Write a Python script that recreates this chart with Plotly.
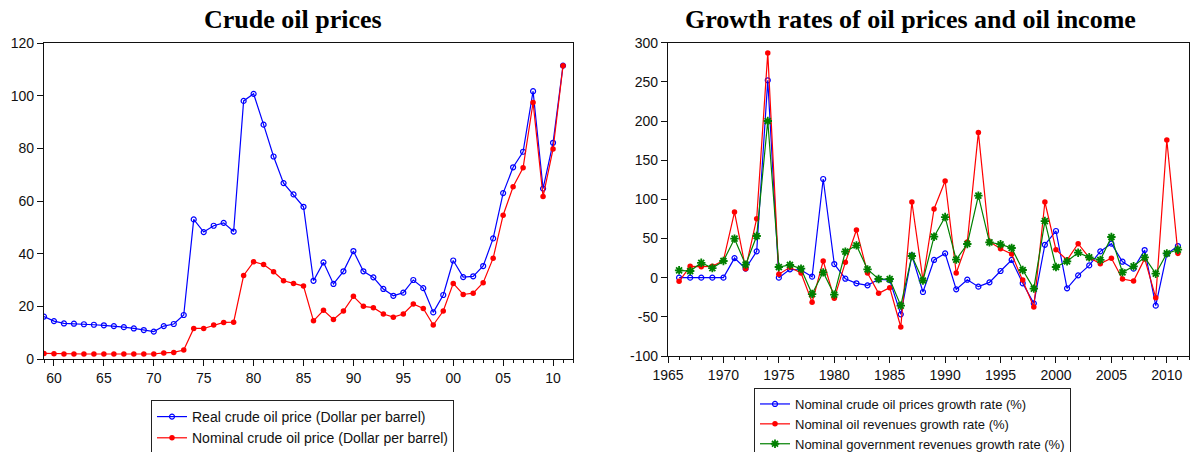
import plotly.graph_objects as go

# ---------------- data ----------------
years_left = list(range(1959, 2012))
real_price = [16.1, 14.4, 13.5, 13.4, 13.2, 13.0, 12.8, 12.5, 12.1, 11.6,
              11.0, 10.4, 12.5, 13.3, 16.7, 53.0, 48.2, 50.6, 51.7, 48.4,
              98.0, 100.7, 89.0, 76.9, 66.8, 62.5, 57.8, 29.7, 36.7, 28.5,
              33.3, 41.0, 33.3, 31.0, 26.6, 24.0, 25.2, 30.0, 26.9, 17.7,
              24.3, 37.4, 31.1, 31.4, 35.3, 45.8, 63.0, 72.8, 78.7, 101.7,
              64.7, 82.1, 111.4]
nominal_price = [2.1, 2.0, 1.9, 1.9, 1.9, 1.9, 1.9, 1.9, 1.9, 1.9,
                 1.9, 1.9, 2.3, 2.5, 3.4, 11.6, 11.6, 12.9, 13.9, 14.0,
                 31.7, 36.9, 35.9, 33.1, 29.7, 28.7, 27.7, 14.5, 18.5, 15.0,
                 18.2, 23.8, 20.0, 19.5, 17.1, 15.9, 17.1, 20.9, 19.2, 12.9,
                 18.2, 28.7, 24.5, 25.0, 29.0, 38.3, 54.6, 65.4, 72.6, 97.4,
                 61.7, 79.7, 111.4]

years_right = list(range(1966, 2012))
price_growth = [0, 0, 0, 0, 0, 25, 11.5, 33.6, 252, 0,
                10.6, 9.8, 1.3, 126, 17.4, -1.3, -7.2, -9.8, -2.1, -3,
                -46.8, 28.5, -18.3, 22.6, 31, -14.9, -2.6, -11.5, -6, 8.5,
                22.6, -7.2, -32.8, 42, 59.6, -13.6, 3, 15.7, 33.6, 43.4,
                20.4, 11.5, 35.3, -35.7, 30.2, 40.4]
oil_rev_growth = [-4.7, 14.5, 14, 14.5, 22, 83.8, 11.5, 75.3, 287, 4.3,
                  13.2, 6, -31.5, 21.3, -26.4, 19.6, 60.9, 6, -20, -12.8,
                  -63, 96.6, -3, 87.7, 123.4, 6, 45.5, 185.5, 46, 37,
                  30.2, -3, -37.4, 96.6, 35.7, 22.6, 43.4, 25.5, 17.9, 24.7,
                  -1.7, -4.3, 24.3, -25.5, 175.7, 31]
gov_rev_growth = [9.4, 8.5, 19, 12.3, 21.3, 49.8, 16.6, 53.2, 200, 13.6,
                  16.2, 11.5, -20.9, 6.8, -21.7, 33.2, 41.3, 10.6, -1.7, -1.7,
                  -35.7, 27.7, -3.8, 52.3, 77.4, 23, 43, 104.7, 45.1, 42.6,
                  37.9, 9.8, -14, 72.3, 13.6, 20.9, 31.9, 26, 22.6, 51.9,
                  6.8, 14.5, 26, 5.1, 31, 35.7]

left_tick_years = [1960, 1965, 1970, 1975, 1980, 1985, 1990, 1995, 2000, 2005, 2010]
left_tick_labels = ["60", "65", "70", "75", "80", "85", "90", "95", "00", "05", "10"]
right_y_ticks = [-100, -50, 0, 50, 100, 150, 200, 250, 300]
right_y_labels = ["-100", "-50", "0", "50", "100", "150", "200", "250", "300"]

names_left = ["Real crude oil price (Dollar per barrel)",
              "Nominal crude oil price (Dollar per barrel)"]
names_right = ["Nominal crude oil prices growth rate (%)",
               "Nominal oil revenues growth rate (%)",
               "Nominal government revenues growth rate (%)"]

# ---------------- figure ----------------
W, H = 1190, 452
SANS = "Liberation Sans, Arial, sans-serif"
SERIF = "Liberation Serif, Times New Roman, serif"
BLUE, RED, GREEN = "#0000ff", "#ff0000", "#008000"

fig = go.Figure()
fig.add_trace(go.Scatter(x=years_left, y=real_price, name=names_left[0], mode="lines+markers",
                         line=dict(color=BLUE, width=1.2),
                         marker=dict(symbol="circle-open", size=5, color=BLUE, line=dict(width=1.2, color=BLUE)),
                         xaxis="x", yaxis="y", legend="legend"))
fig.add_trace(go.Scatter(x=years_left, y=nominal_price, name=names_left[1], mode="lines+markers",
                         line=dict(color=RED, width=1.2),
                         marker=dict(symbol="circle", size=5.5, color=RED),
                         xaxis="x", yaxis="y", legend="legend"))

fig.add_trace(go.Scatter(x=years_right, y=price_growth, name=names_right[0], mode="lines+markers",
                         line=dict(color=BLUE, width=1.2),
                         marker=dict(symbol="circle-open", size=5, color=BLUE, line=dict(width=1.2, color=BLUE)),
                         xaxis="x2", yaxis="y2", legend="legend2"))
fig.add_trace(go.Scatter(x=years_right, y=oil_rev_growth, name=names_right[1], mode="lines+markers",
                         line=dict(color=RED, width=1.2),
                         marker=dict(symbol="circle", size=5.5, color=RED),
                         xaxis="x2", yaxis="y2", legend="legend2"))
fig.add_trace(go.Scatter(x=years_right, y=gov_rev_growth, name=names_right[2], mode="lines+markers",
                         line=dict(color=GREEN, width=1.2),
                         marker=dict(symbol="asterisk-open", size=7, color=GREEN, line=dict(width=1.8, color=GREEN)),
                         xaxis="x2", yaxis="y2", legend="legend2"))

axis_common = dict(showline=True, mirror=True, linecolor="#111", linewidth=1.3, automargin=False,
                   showgrid=False, zeroline=False, ticks="outside", tickcolor="#111",
                   ticklen=6, tickwidth=1, tickfont=dict(family=SANS, size=14, color="#111"))

fig.update_layout(
    width=W, height=H,
    margin=dict(l=0, r=0, t=0, b=0, autoexpand=False),
    paper_bgcolor="white", plot_bgcolor="white",
    showlegend=True,
    xaxis=dict(domain=[44 / W, 573 / W], range=[1959, 2012], tickmode="array",
               tickvals=left_tick_years, ticktext=left_tick_labels,
               minor=dict(tickmode="linear", tick0=1959, dtick=1, ticks="outside", ticklen=3, tickcolor="#111"),
               anchor="y", **axis_common),
    yaxis=dict(domain=[1 - 359 / H, 1 - 43 / H], range=[0, 120], tickmode="linear", tick0=0, dtick=20,
               anchor="x", **axis_common),
    xaxis2=dict(domain=[668 / W, 1189 / W], range=[1965, 2012], tickmode="linear", tick0=1965, dtick=5,
                minor=dict(tickmode="linear", tick0=1965, dtick=1, ticks="outside", ticklen=3, tickcolor="#111"),
                anchor="y2", **axis_common),
    yaxis2=dict(domain=[1 - 356 / H, 1 - 42.7 / H], range=[-100, 300], tickmode="array",
                tickvals=right_y_ticks, ticktext=right_y_labels, anchor="x2", **axis_common),
    legend=dict(x=151 / W, y=1 - 400 / H, xanchor="left", yanchor="top",
                bordercolor="#222", borderwidth=1, bgcolor="white",
                font=dict(family=SANS, size=14, color="#111"), tracegroupgap=0),
    legend2=dict(x=754 / W, y=1 - 388 / H, xanchor="left", yanchor="top",
                 bordercolor="#222", borderwidth=1, bgcolor="white",
                 font=dict(family=SANS, size=13, color="#111"), tracegroupgap=0),
    annotations=[
        dict(text="<b>Crude oil prices</b>", x=293 / W, y=1 - 20 / H, xref="paper", yref="paper",
             xanchor="center", yanchor="middle", showarrow=False,
             font=dict(family=SERIF, size=26, color="black")),
        dict(text="<b>Growth rates of oil prices and oil income</b>", x=911 / W, y=1 - 20 / H,
             xref="paper", yref="paper", xanchor="center", yanchor="middle", showarrow=False,
             font=dict(family=SERIF, size=26, color="black")),
    ],
)

fig.write_html("out.html", config={"displayModeBar": False},
               post_script="document.body.style.margin='0px';")
